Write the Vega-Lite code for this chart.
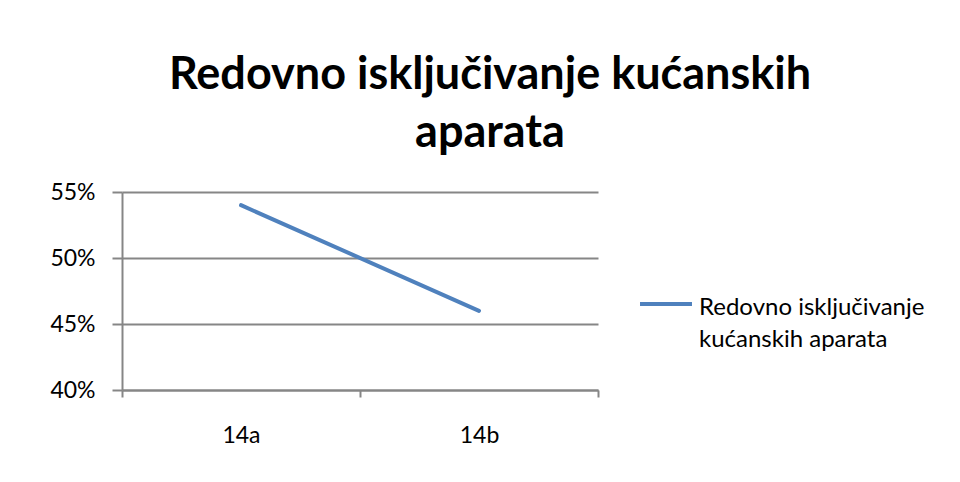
{
  "$schema": "https://vega.github.io/schema/vega-lite/v6.json",
  "width": 476,
  "height": 198,
  "autosize": {"type": "none"},
  "padding": {"left": 122, "top": 192, "right": 362, "bottom": 92},
  "background": "white",
  "title": {
    "text": ["Redovno isključivanje kućanskih", "aparata"],
    "font": "Lato",
    "fontSize": 45,
    "fontWeight": "bold",
    "color": "black",
    "anchor": "middle",
    "dx": 130,
    "offset": 25,
    "lineHeight": 58
  },
  "data": {
    "values": [
      {"grupa": "14a", "udio": 0.54, "serija": "Redovno isključivanje kućanskih aparata"},
      {"grupa": "14b", "udio": 0.46, "serija": "Redovno isključivanje kućanskih aparata"}
    ]
  },
  "mark": {"type": "line", "strokeWidth": 4, "strokeCap": "round"},
  "encoding": {
    "x": {
      "field": "grupa",
      "type": "nominal",
      "scale": {"type": "band", "paddingInner": 0, "paddingOuter": 0},
      "axis": {
        "title": null,
        "labelAngle": 0,
        "tickBand": "extent",
        "grid": false,
        "domainColor": "#868686",
        "domainWidth": 2,
        "tickColor": "#868686",
        "tickWidth": 2,
        "tickSize": 7,
        "labelFont": "Lato",
        "labelFontSize": 23,
        "labelColor": "black",
        "labelPadding": 27
      }
    },
    "y": {
      "field": "udio",
      "type": "quantitative",
      "scale": {"domain": [0.4, 0.55], "nice": false, "zero": false},
      "axis": {
        "title": null,
        "values": [0.4, 0.45, 0.5, 0.55],
        "format": ".0%",
        "grid": true,
        "gridColor": "#868686",
        "gridWidth": 2,
        "domainColor": "#868686",
        "domainWidth": 2,
        "tickColor": "#868686",
        "tickWidth": 2,
        "tickSize": 10,
        "labelFont": "Lato",
        "labelFontSize": 23,
        "labelColor": "black",
        "labelPadding": 17
      }
    },
    "color": {
      "field": "serija",
      "type": "nominal",
      "scale": {"range": ["#4F81BD"]},
      "legend": {
        "title": null,
        "orient": "none",
        "legendX": 516,
        "legendY": 84,
        "symbolType": "stroke",
        "symbolSize": 2700,
        "symbolStrokeWidth": 4,
        "labelFont": "Lato",
        "labelFontSize": 24,
        "labelColor": "black",
        "labelOffset": 5,
        "labelLimit": 400,
        "labelExpr": "['Redovno isključivanje', 'kućanskih aparata']",
        "labelBaseline": "top",
        "encode": {"labels": {"update": {"lineHeight": {"value": 32}, "dy": {"value": -8}}}}
      }
    }
  },
  "config": {"view": {"stroke": null}}
}
